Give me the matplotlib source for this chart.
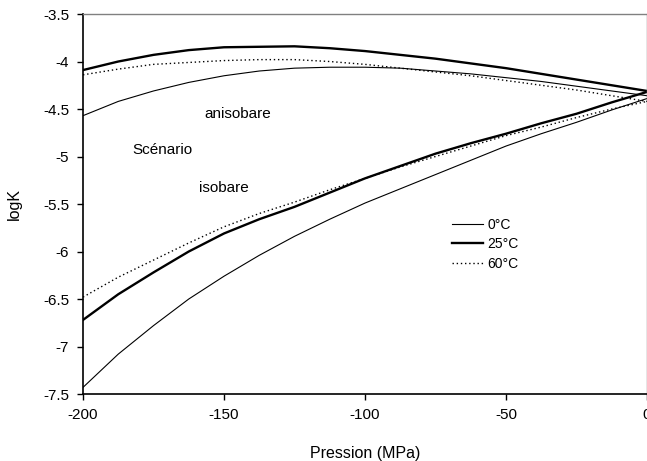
import matplotlib
matplotlib.use('Agg')
import matplotlib.pyplot as plt
from matplotlib.ticker import FormatStrFormatter

plt.rcParams['font.family'] = ['Liberation Sans', 'DejaVu Sans']
plt.rcParams['axes.unicode_minus'] = False

# pressure (MPa)
pression = [-200, -187.5, -175, -162.5, -150, -137.5, -125, -112.5, -100,
            -87.5, -75, -62.5, -50, -37.5, -25, -12.5, 0]

# logK, scenario anisobare (upper curves)
aniso_0 = [-4.57, -4.42, -4.31, -4.22, -4.15, -4.10, -4.07, -4.06, -4.06,
           -4.07, -4.10, -4.13, -4.17, -4.21, -4.26, -4.31, -4.36]
aniso_25 = [-4.09, -4.00, -3.93, -3.88, -3.85, -3.845, -3.84, -3.86, -3.89,
            -3.93, -3.97, -4.02, -4.07, -4.13, -4.19, -4.25, -4.31]
aniso_60 = [-4.14, -4.08, -4.03, -4.01, -3.99, -3.98, -3.98, -4.00, -4.03,
            -4.07, -4.11, -4.15, -4.20, -4.25, -4.30, -4.36, -4.42]

# logK, scenario isobare (lower curves)
iso_0 = [-7.43, -7.08, -6.78, -6.50, -6.26, -6.04, -5.84, -5.66, -5.49,
         -5.34, -5.19, -5.04, -4.89, -4.76, -4.64, -4.51, -4.39]
iso_25 = [-6.72, -6.45, -6.22, -6.00, -5.81, -5.66, -5.53, -5.38, -5.23,
          -5.10, -4.97, -4.86, -4.76, -4.65, -4.55, -4.43, -4.32]
iso_60 = [-6.48, -6.27, -6.09, -5.91, -5.74, -5.60, -5.48, -5.35, -5.23,
          -5.11, -5.00, -4.89, -4.78, -4.69, -4.59, -4.50, -4.42]

labels = ['0°C', '25°C', '60°C']

fig = plt.figure(figsize=(6.47, 4.61), dpi=100)
ax = fig.add_axes([0.1283, 0.1453, 0.8717, 0.8243])

s0 = dict(color='black', lw=0.8, linestyle='-')
s25 = dict(color='black', lw=1.7, linestyle='-')
s60 = dict(color='black', lw=1.0, linestyle=(0, (1, 2)))

l0, = ax.plot(pression, aniso_0, **s0)
l25, = ax.plot(pression, aniso_25, **s25)
l60, = ax.plot(pression, aniso_60, **s60)
ax.plot(pression, iso_0, **s0)
ax.plot(pression, iso_25, **s25)
ax.plot(pression, iso_60, **s60)

ax.set_xlim(-200, 0)
ax.set_ylim(-7.5, -3.5)
ax.set_xticks([-200, -150, -100, -50, 0])
ax.set_yticks([-7.5, -7, -6.5, -6, -5.5, -5, -4.5, -4, -3.5])
ax.yaxis.set_major_formatter(FormatStrFormatter('%g'))
ax.tick_params(direction='out', length=4, width=1, labelsize=11, pad=6)

for side in ['top', 'right']:
    ax.spines[side].set_color('#808080')
    ax.spines[side].set_linewidth(1)
for side in ['left', 'bottom']:
    ax.spines[side].set_linewidth(1.2)

ax.set_xlabel('Pression (MPa)', fontsize=11.5, labelpad=17)
ax.set_ylabel('logK', fontsize=11.5, labelpad=15)

ax.text(-145, -4.55, 'anisobare', fontsize=11, ha='center', va='center')
ax.text(-172, -4.93, 'Scénario', fontsize=11, ha='center', va='center')
ax.text(-150, -5.33, 'isobare', fontsize=11, ha='center', va='center')

ax.legend([l0, l25, l60], labels, loc='upper left', bbox_to_anchor=(0.655, 0.463),
          frameon=False, fontsize=10, handlelength=2.2, handletextpad=0.3,
          labelspacing=0.38, borderpad=0, borderaxespad=0)

fig.savefig('out.png', dpi=100)
